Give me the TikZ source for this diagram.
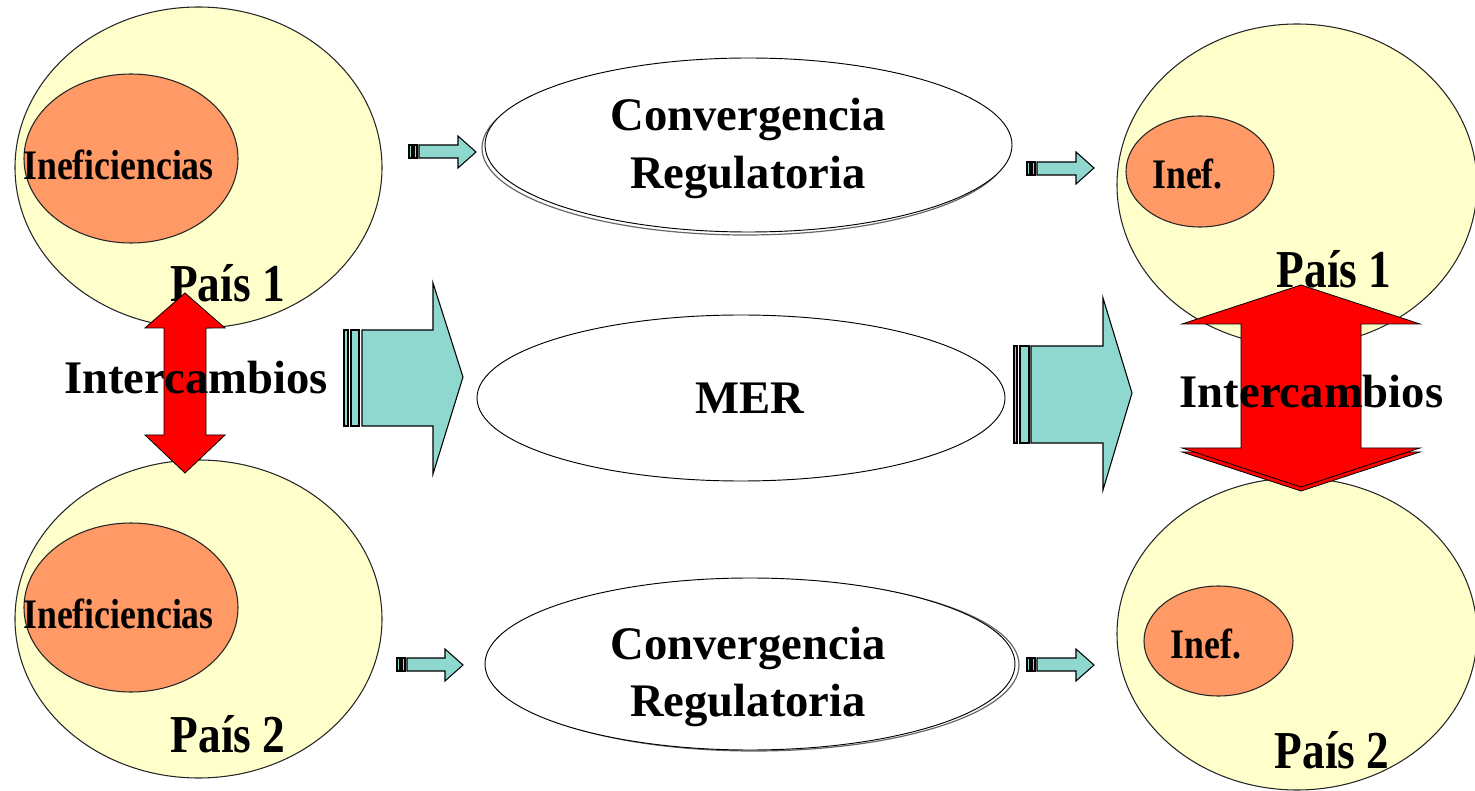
\documentclass[tikz,border=0pt]{standalone}
\usepackage{fontspec}
\setmainfont{Liberation Serif}
\newfontfamily\narrowfont{Liberation Serif}[FakeStretch=0.85]
\usepackage{tikz}
\usepackage{xcolor}

\definecolor{paisyellow}{RGB}{255,255,204}
\definecolor{inefforange}{RGB}{255,153,102}
\definecolor{flowteal}{RGB}{143,216,208}
\definecolor{swapred}{RGB}{255,0,0}

\tikzset{
  pais/.style={draw=black!85, fill=paisyellow, line width=0.8pt},
  ineff/.style={draw=black!85, fill=inefforange, line width=0.8pt},
  bubble/.style={draw=black, fill=white, line width=0.7pt},
  bubbleshade/.style={draw=black!60, line width=0.9pt},
  flow/.style={draw=black, fill=flowteal, line width=0.8pt},
  swap/.style={draw=black, fill=swapred, line width=0.6pt},
  bigtext/.style={font=\bfseries\fontsize{35}{42}\selectfont, inner sep=0pt, anchor=base},
  paistext/.style={font=\narrowfont\bfseries\fontsize{40}{48}\selectfont, inner sep=0pt, anchor=base},
  ineftext/.style={font=\narrowfont\bfseries\fontsize{31.5}{38}\selectfont, inner sep=0pt, anchor=base},
}

\begin{document}
\begin{tikzpicture}[x=0.75pt,y=0.75pt,yscale=-1,xscale=1]
    \useasboundingbox (0,0) rectangle (1475,791);

    %Shape: Ellipse [id:pais1left]
    \draw[pais] (198.5,167.5) ellipse (183.5 and 160.5);
    %Shape: Ellipse [id:pais2left]
    \draw[pais] (198.5,619) ellipse (183.5 and 159);
    %Shape: Ellipse [id:pais1right]
    \draw[pais] (1297,185) ellipse (180 and 161);
    %Shape: Ellipse [id:pais2right]
    \draw[pais] (1297,634) ellipse (180 and 156);

    %Shape: Ellipse [id:ineff1left]
    \draw[ineff] (131,158.5) ellipse (107 and 84.5);
    %Shape: Ellipse [id:ineff2left]
    \draw[ineff] (131,607.5) ellipse (107 and 84.5);
    %Shape: Ellipse [id:ineff1right]
    \draw[ineff] (1200,171.5) ellipse (74 and 55.5);
    %Shape: Ellipse [id:ineff2right]
    \draw[ineff] (1218.5,641) ellipse (74.5 and 55);

    % Text Node
    \node[ineftext] (ineftxt1l) at (118.5,180) {Ineficiencias};
    % Text Node
    \node[ineftext] (ineftxt2l) at (118.5,628) {Ineficiencias};
    % Text Node
    \node[ineftext] (ineftxt1r) at (1187.5,189) {Inef.};
    % Text Node
    \node[ineftext] (ineftxt2r) at (1206,658) {Inef.};
    % Text Node
    \node[paistext] (paistxt1l) at (227.5,302) {País 1};
    % Text Node
    \node[paistext] (paistxt2l) at (228,752) {País 2};
    % Text Node
    \node[paistext] (paistxt1r) at (1334,288) {País 1};
    % Text Node
    \node[paistext] (paistxt2r) at (1332,768) {País 2};

    %Shape: Ellipse [id:convtop]
    \draw[bubbleshade] (745.5,148) ellipse (263.5 and 87);
    \draw[bubble] (748.5,145) ellipse (263.5 and 87);
    %Shape: Ellipse [id:mer]
    \draw[bubble] (741,398) ellipse (264 and 83);
    %Shape: Ellipse [id:convbottom]
    \draw[bubbleshade] (754,665) ellipse (265 and 86);
    \draw[bubble] (750,664) ellipse (265 and 86);

    % Text Node
    \node[bigtext] (convtxt1) at (748,131) {Convergencia};
    % Text Node
    \node[bigtext] (regtxt1) at (748,189) {Regulatoria};
    % Text Node
    \node[bigtext] (mertxt) at (750,414) {MER};
    % Text Node
    \node[bigtext] (convtxt2) at (748,659) {Convergencia};
    % Text Node
    \node[bigtext] (regtxt2) at (748,716) {Regulatoria};

    %Shape: Striped Right Arrow [id:flowsmall1]
    \draw[flow] (409,145) rectangle (412,158);
    \draw[flow] (414,145) rectangle (417,158);
    \draw[flow] (419,145) -- (458,145) -- (458,136) -- (476,152) -- (458,168) -- (458,158) -- (419,158) -- cycle ;
    %Shape: Striped Right Arrow [id:flowsmall2]
    \draw[flow] (1027,162) rectangle (1030,175);
    \draw[flow] (1032,162) rectangle (1035,175);
    \draw[flow] (1037,162) -- (1076,162) -- (1076,152) -- (1094,168) -- (1076,184) -- (1076,175) -- (1037,175) -- cycle ;
    %Shape: Striped Right Arrow [id:flowsmall3]
    \draw[flow] (397,658) rectangle (400,671);
    \draw[flow] (402,658) rectangle (405,671);
    \draw[flow] (407,658) -- (445,658) -- (445,649) -- (463,665) -- (445,681) -- (445,671) -- (407,671) -- cycle ;
    %Shape: Striped Right Arrow [id:flowsmall4]
    \draw[flow] (1027,658) rectangle (1030,671);
    \draw[flow] (1032,658) rectangle (1035,671);
    \draw[flow] (1037,658) -- (1076,658) -- (1076,649) -- (1094,665) -- (1076,681) -- (1076,671) -- (1037,671) -- cycle ;

    %Shape: Striped Right Arrow [id:flowbig1]
    \draw[flow] (344,330) rectangle (348,426);
    \draw[flow] (351,330) rectangle (359,426);
    \draw[flow] (362,330) -- (433,330) -- (433,283) -- (463,377) -- (433,474) -- (433,426) -- (362,426) -- cycle ;
    %Shape: Striped Right Arrow [id:flowbig2]
    \draw[flow] (1014,346) rectangle (1017,443);
    \draw[flow] (1020,346) rectangle (1029,443);
    \draw[flow] (1031,346) -- (1103,346) -- (1103,298) -- (1132,393) -- (1103,490) -- (1103,443) -- (1031,443) -- cycle ;

    %Shape: Up Down Arrow [id:swapleft]
    \draw[swap] (185,293) -- (225,328) -- (206,328) -- (206,435) -- (225,435) -- (185,473) -- (145,435) -- (164,435) -- (164,328) -- (145,328) -- cycle ;
    %Shape: Up Down Arrow [id:swapright]
    \draw[swap] (1182,452) -- (1420,452) -- (1301,491) -- cycle ;
    \draw[swap] (1301,285) -- (1420,324) -- (1361,324) -- (1361,448) -- (1420,448) -- (1301,487) -- (1182,448) -- (1241,448) -- (1241,324) -- (1182,324) -- cycle ;

    % Text Node
    \node[bigtext] (swaptxtl) at (196,394) {Intercambios};
    % Text Node
    \node[bigtext] (swaptxtr) at (1311.5,408) {Intercambios};

\end{tikzpicture}
\end{document}
